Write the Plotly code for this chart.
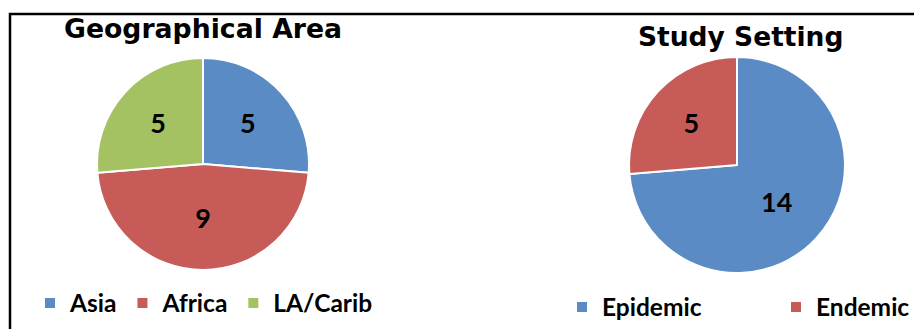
import plotly.graph_objects as go

geo_labels = ["Asia", "Africa", "LA/Carib"]
geo_values = [5, 9, 5]
geo_colors = ["#5B8BC4", "#C75B57", "#A5C262"]

set_labels = ["Epidemic", "Endemic"]
set_values = [14, 5]
set_colors = ["#5B8BC4", "#C75B57"]

W, H = 914, 329

def px_x(v):
    return v / W

def px_y(v):
    return 1 - v / H

label_font = dict(family="Lato", size=27, color="black", weight="bold")

fig = go.Figure()
fig.add_trace(go.Pie(
    labels=geo_labels, values=geo_values, sort=False, direction="clockwise", rotation=0,
    marker=dict(colors=geo_colors, line=dict(color="white", width=2)),
    textinfo="value", textposition="inside", insidetextorientation="horizontal",
    textfont=label_font,
    domain=dict(x=[px_x(97), px_x(309)], y=[px_y(270), px_y(58)]),
    legend="legend", hoverinfo="label+value",
))
fig.add_trace(go.Pie(
    labels=set_labels, values=set_values, sort=False, direction="clockwise", rotation=0,
    marker=dict(colors=set_colors, line=dict(color="white", width=2)),
    textinfo="value", textposition="inside", insidetextorientation="horizontal",
    textfont=label_font,
    domain=dict(x=[px_x(629), px_x(845)], y=[px_y(273), px_y(57)]),
    legend="legend2", hoverinfo="label+value",
))

legend_font = dict(family="Lato", size=24.5, color="black", weight="bold")
fig.update_layout(
    width=W, height=H,
    margin=dict(l=0, r=0, t=0, b=0, autoexpand=False),
    paper_bgcolor="white", plot_bgcolor="white",
    legend=dict(orientation="h", x=px_x(30), y=px_y(303), xanchor="left", yanchor="middle",
                font=legend_font, itemwidth=30, bgcolor="rgba(0,0,0,0)"),
    legend2=dict(orientation="h", x=px_x(562), y=px_y(307), xanchor="left", yanchor="middle",
                 font=legend_font, itemwidth=30, entrywidth=169, bgcolor="rgba(0,0,0,0)"),
    annotations=[
        dict(text="<b>Geographical Area</b>", x=px_x(203), y=px_y(29), xref="paper", yref="paper",
             showarrow=False, xanchor="center", yanchor="middle",
             font=dict(family="DejaVu Sans", size=26.7, color="black")),
        dict(text="<b>Study Setting</b>", x=px_x(740), y=px_y(37), xref="paper", yref="paper",
             showarrow=False, xanchor="center", yanchor="middle",
             font=dict(family="DejaVu Sans", size=26.5, color="black")),
    ],
    shapes=[
        dict(type="rect", xref="paper", yref="paper", x0=px_x(10), x1=1.05, y0=-0.05, y1=px_y(14),
             line=dict(color="black", width=2.5), fillcolor="rgba(0,0,0,0)", layer="above"),
    ],
)

fig.write_html("out.html")
